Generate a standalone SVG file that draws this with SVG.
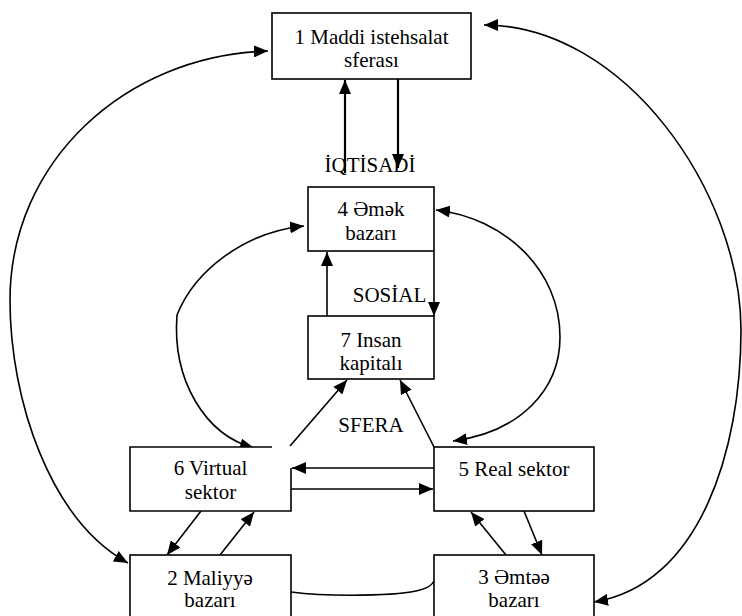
<svg xmlns="http://www.w3.org/2000/svg" width="742" height="616" viewBox="0 0 742 616">
<defs>
<marker id="ah" markerUnits="userSpaceOnUse" markerWidth="15" markerHeight="12" refX="14" refY="6" orient="auto">
<path d="M0,0 L14,6 L0,12 z" fill="#000"/>
</marker>
<style>
.box{fill:#fff;stroke:#000;stroke-width:1.6}
.t{font-family:"Liberation Serif","Times New Roman",serif;font-size:21px;fill:#000;text-anchor:middle}
.c{fill:none;stroke:#000;stroke-width:1.6}
.a{marker-end:url(#ah)}
.thick{stroke-width:2.2}
</style>
</defs>
<rect width="742" height="616" fill="#fff"/>
<g id="connectors">
<path class="c a thick" d="M345,173 V80"/>
<path class="c a thick" d="M398,79 V168"/>
<path class="c a" d="M327,316 V252"/>
<path class="c a" d="M434,251 V316"/>
<path class="c a" d="M290,446 L347,380"/>
<path class="c a" d="M434,447 L400,380"/>
<path class="c a" d="M434,468 H292"/>
<path class="c a" d="M291,489 H433"/>
<path class="c a" d="M201,511 L167,555"/>
<path class="c a" d="M220,555 L254,512"/>
<path class="c a" d="M506,555 L471,512"/>
<path class="c a" d="M524,511 L542,555"/>
<path class="c" d="M291,592 C330,597 400,596 420,590 C428,588 432,585 434,581"/>
<path class="c a" d="M10,300 C10,162 125,55 268,51"/>
<path class="c a" d="M10,300 C10,400 50,520 128,563"/>
<path class="c a" d="M741,330 C741,193 625,25 484,25"/>
<path class="c a" d="M741,330 C741,450 700,585 594,602"/>
<path class="c a" d="M177,315 C195,270 245,232 304,226"/>
<path class="c a" d="M177,315 C172,380 205,435 254,448"/>
<path class="c a" d="M560,337 C560,270 505,218 436,210"/>
<path class="c a" d="M560,337 C560,390 520,432 453,441"/>
</g>
<g id="node1">
<rect class="box" x="272" y="13" width="199" height="66"/>
<text class="t" x="371.5" y="44">1 Maddi istehsalat</text>
<text class="t" x="371.5" y="67">sferası</text>
</g>
<g id="node4">
<rect class="box" x="308" y="187" width="126" height="64"/>
<text class="t" x="371" y="216">4 Əmək</text>
<text class="t" x="371" y="240">bazarı</text>
</g>
<g id="node7">
<rect class="box" x="308" y="316" width="126" height="63"/>
<text class="t" x="371" y="347">7 Insan</text>
<text class="t" x="371" y="370">kapitalı</text>
</g>
<g id="node6">
<path class="box" d="M272,447 H130 V511 H291 V468"/>
<text class="t" x="210.5" y="475">6 Virtual</text>
<text class="t" x="210.5" y="499">sektor</text>
</g>
<g id="node5">
<rect class="box" x="434" y="447" width="160" height="64"/>
<text class="t" x="514" y="476">5 Real sektor</text>
</g>
<g id="node2">
<rect class="box" x="130" y="555" width="161" height="70"/>
<text class="t" x="210" y="585">2 Maliyyə</text>
<text class="t" x="210" y="607">bazarı</text>
</g>
<g id="node3">
<rect class="box" x="434" y="555" width="160" height="70"/>
<text class="t" x="514" y="584">3 Əmtəə</text>
<text class="t" x="514" y="607">bazarı</text>
</g>
<g id="labels">
<text class="t" x="370" y="172">İQTİSADİ</text>
<text class="t" x="389.5" y="302">SOSİAL</text>
<text class="t" x="371" y="432">SFERA</text>
</g>
</svg>
